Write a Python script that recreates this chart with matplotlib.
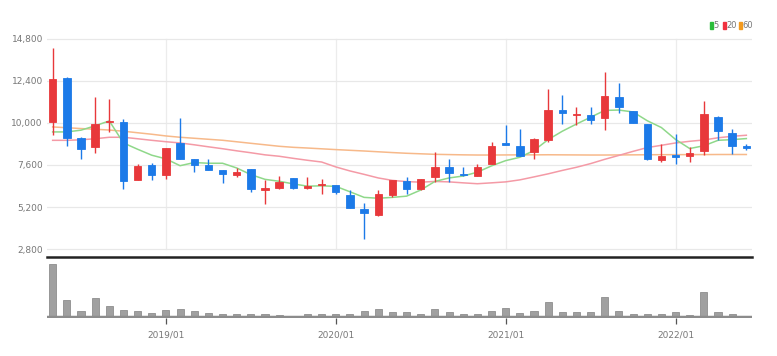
import numpy as np
import pandas as pd
import matplotlib
matplotlib.use("Agg")
import matplotlib.pyplot as plt
from matplotlib.patches import Rectangle

# monthly candles 2018/05 .. 2022/06
months = [p.strftime("%Y/%m") for p in pd.period_range("2018-05", periods=50, freq="M")]

open_ = [10060, 12550, 9150, 8630, 10030, 10060, 6760, 7580, 7050, 8860,
         7960, 7580, 7290, 7050, 7390, 6170, 6300, 6880, 6300, 6440,
         6430, 5860, 5100, 4770, 5860, 6660, 6200, 6910, 7480, 7100,
         6950, 7640, 8860, 8670, 8340, 9010, 10730, 10470, 10450, 10260,
         11490, 10690, 9970, 7870, 8170, 8110, 8400, 10350, 9430, 8670]
high = [14300, 12600, 9200, 11480, 11380, 10250, 7640, 7710, 8590, 10290,
        7960, 7920, 7290, 7430, 7390, 6720, 6950, 6880, 6900, 6780,
        6430, 6190, 5420, 6190, 6720, 6910, 6800, 8340, 7920, 7480,
        7680, 8920, 9870, 9680, 9150, 11920, 11590, 10920, 10890, 12930,
        12300, 10700, 9970, 8780, 9360, 8600, 11270, 10400, 9630, 8780]
low = [9300, 8690, 7960, 8290, 9490, 6200, 6760, 6760, 6820, 7960,
       7200, 7330, 6570, 6890, 6050, 5390, 6200, 6200, 6250, 5920,
       5960, 5160, 3380, 4660, 5770, 5960, 6190, 6620, 6620, 6990,
       6950, 7640, 8730, 8100, 7960, 8920, 9970, 9870, 9970, 9590,
       10580, 10000, 7860, 7780, 7640, 7770, 8150, 9010, 8250, 8470]
close = [12490, 9170, 8540, 9930, 10120, 6660, 7520, 7050, 8590, 7960,
         7580, 7330, 7060, 7200, 6250, 6280, 6650, 6300, 6420, 6490,
         6050, 5160, 4850, 5920, 6720, 6200, 6780, 7480, 7140, 7000,
         7480, 8670, 8750, 8100, 9110, 10770, 10580, 10530, 10160, 11550,
         10920, 10000, 7920, 8110, 8070, 8310, 10500, 9530, 8670, 8590]
volume = [5300, 1700, 600, 1930, 1100, 700, 570, 430, 700, 770,
          570, 430, 300, 300, 300, 300, 230, 130, 270, 270,
          270, 300, 630, 800, 480, 470, 300, 770, 470, 270,
          270, 630, 870, 430, 630, 1470, 470, 470, 470, 2030,
          630, 300, 300, 300, 470, 200, 2530, 470, 270, 60]

ma5 = [9490, 9490, 9590, 9840, 10120, 8860, 8500, 8160, 7950, 7560,
       7740, 7700, 7700, 7430, 7050, 6780, 6670, 6520, 6390, 6410,
       6380, 6070, 5750, 5700, 5750, 5820, 6170, 6660, 6860, 6970,
       7190, 7550, 7850, 8040, 8430, 9050, 9530, 9940, 10330, 10720,
       10740, 10630, 10130, 9740, 9060, 8540, 8700, 9010, 9050, 9110]
ma20 = [9010, 9010, 9040, 9100, 9185, 9185, 9100, 9010, 8930, 8860,
        8755, 8640, 8530, 8410, 8300, 8180, 8100, 7980, 7870, 7770,
        7490, 7260, 7065, 6860, 6720, 6650, 6620, 6660, 6635, 6580,
        6530, 6580, 6635, 6750, 6920, 7095, 7290, 7470, 7680, 7925,
        8150, 8380, 8595, 8725, 8860, 8955, 9030, 9155, 9240, 9300]
ma60 = [9775, 9730, 9683, 9643, 9597, 9530, 9443, 9357, 9260, 9185,
        9128, 9070, 9013, 8927, 8840, 8755, 8670, 8610, 8570, 8525,
        8480, 8440, 8400, 8355, 8310, 8270, 8240, 8210, 8195, 8180,
        8170, 8170, 8175, 8180, 8180, 8185, 8180, 8175, 8170, 8170,
        8175, 8180, 8185, 8190, 8190, 8195, 8195, 8200, 8200, 8200]

price_ticks = [2800, 5200, 7600, 10000, 12400, 14800]
year_labels = ["2019/01", "2020/01", "2021/01", "2022/01"]
legend_items = [("5", "#2bbd3a"), ("20", "#f0313f"), ("60", "#f39a1e")]

UP = "#e8383b"
DOWN = "#1c7ae8"
TXT = "#777777"
FONT = ["Liberation Sans Narrow", "DejaVu Sans"]
plt.rcParams["font.family"] = FONT

x = np.arange(len(months))
o = np.array(open_)
c = np.array(close)
up = c >= o
colors = np.where(up, UP, DOWN)

fig = plt.figure(figsize=(7.77, 3.56), dpi=100)
W, H = 777, 356
ax = fig.add_axes([47 / W, 1 - 257 / H, 705 / W, (257 - 36) / H])
axv = fig.add_axes([47 / W, 1 - 318 / H, 705 / W, 58 / H], sharex=ax)

ylo, yhi = 2343, 14971
ax.set_ylim(ylo, yhi)
ax.set_xlim(-0.4, 49.4)

# grid
ax.set_yticks(price_ticks)
ax.set_yticklabels([f"{v:,}" for v in price_ticks])
ax.yaxis.grid(True, color="#e8e8e8", lw=0.9, zorder=0)
year_pos = [months.index(m) for m in year_labels]
gmin = (2800 - ylo) / (yhi - ylo)
gmax = (14800 - ylo) / (yhi - ylo)
for p in year_pos:
    ax.axvline(p, gmin, gmax, color="#ececec", lw=0.9, zorder=0)

# moving averages
ax.plot(x, ma60, color="#f7b98a", lw=1.1, zorder=2)
ax.plot(x, ma20, color="#f49aa6", lw=1.1, zorder=2)
ax.plot(x, ma5, color="#8fd88a", lw=1.1, zorder=2)

# candles
ax.vlines(x, low, high, colors=colors, lw=1.0, zorder=3)
body_lo = np.minimum(o, c)
body_h = np.abs(c - o)
ax.bar(x, body_h, width=0.52, bottom=body_lo, color=colors,
       edgecolor=colors, lw=0.6, zorder=4)

for s in ["top", "left", "right"]:
    ax.spines[s].set_visible(False)
ax.spines["bottom"].set_color("#222222")
ax.spines["bottom"].set_linewidth(1.8)
ax.tick_params(axis="y", length=0, pad=3, labelsize=6.5, labelcolor=TXT)
ax.tick_params(axis="x", length=0, labelbottom=False)

# volume
axv.bar(x, volume, width=0.5, color="#a0a0a0", edgecolor="#8e8e8e", lw=0.6, zorder=2)
axv.axhline(0, color="#8c8c8c", lw=2.5, zorder=3)
axv.set_ylim(-100, 5700)
for s in axv.spines.values():
    s.set_visible(False)
axv.set_yticks([])
axv.set_xticks(year_pos)
axv.set_xticklabels(year_labels)
axv.tick_params(axis="x", length=4, width=0.9, color="#555555", pad=5,
                labelsize=6.5, labelcolor=TXT)

# legend top-right
lx = 710
for label, col in legend_items:
    fig.patches.append(Rectangle((lx / W, 1 - 28.5 / H), 3 / W, 6 / H,
                                 transform=fig.transFigure, color=col))
    t = fig.text((lx + 3.8) / W, 1 - 25.7 / H, label, fontsize=6,
                 color=TXT, va="center", ha="left")
    lx += 13 if len(label) == 1 else 16

fig.savefig("out.png", dpi=100, facecolor="white")
